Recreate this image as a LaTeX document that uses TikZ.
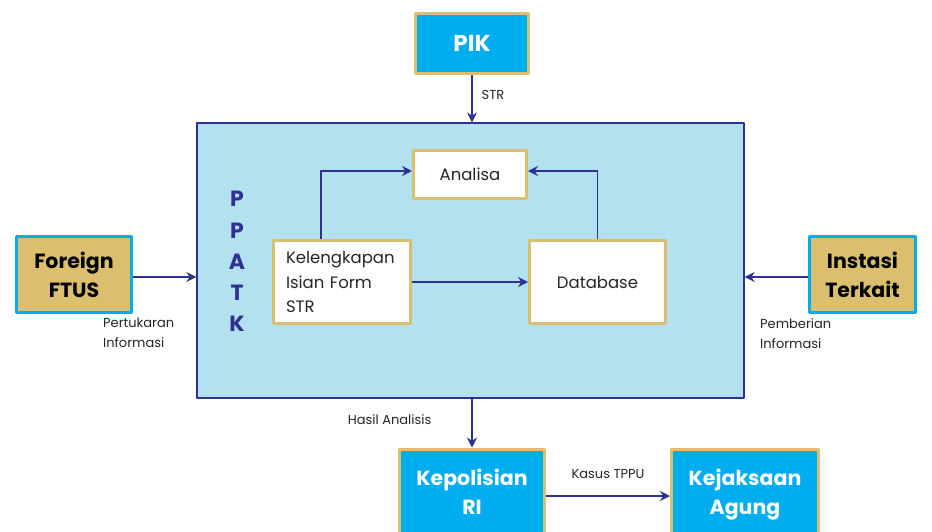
\documentclass[tikz,border=0pt]{standalone}
\usepackage{fontspec}
\setmainfont{Poppins}
\usetikzlibrary{arrows.meta}
\definecolor{sky}{HTML}{00AEEF}
\definecolor{sand}{HTML}{DBBF6E}
\definecolor{pale}{HTML}{B3E1F0}
\definecolor{navy}{HTML}{2E3192}
\tikzset{
  unit/.style={draw=sand, fill=sky, line width=3pt, text=white, align=center,
    font=\bfseries\fontsize{20.5}{29}\selectfont, inner sep=0pt, text depth=0pt},
  outside/.style={draw=sky, fill=sand, line width=3pt, text=black, align=center,
    font=\bfseries\fontsize{20.5}{29}\selectfont, inner sep=0pt},
  task/.style={draw=sand, fill=white, line width=3pt, text=black!85,
    font=\fontsize{16.5}{24.5}\selectfont, inner sep=0pt},
  flow/.style={draw=navy, line width=1.3pt, ->},
  note/.style={font=\fontsize{13}{20}\selectfont, text=black!85, inner sep=0pt},
  letter/.style={font=\bfseries\fontsize{22}{22}\selectfont, text=navy, inner sep=0pt}
}
\begin{document}
\begin{tikzpicture}[x=1pt, y=-1pt, >={Stealth[length=10pt,width=10pt]}, line join=round]
    \useasboundingbox[fill=white] (0,0) rectangle (932,531);
    % PPATK
    \node[draw=navy, fill=pale, line width=1.3pt, minimum width=547pt, minimum height=275pt] (ppatk) at (470.5,260.5) {};
    \foreach \c [count=\i from 0] in {P,P,A,T,K} \node[letter] (l\i) at (237,199+31.3*\i) {\c};
    \node[task, minimum width=113pt, minimum height=48pt] (analisa) at (470,174.5) {Analisa};
    \node[task, minimum width=137pt, minimum height=83pt, align=left, text width=112pt] (form) at (342,282) {Kelengkapan\\Isian Form\\STR};
    \node[task, minimum width=136pt, minimum height=83pt] (db) at (597.5,282) {Database};
    % around
    \node[unit, minimum width=113pt, minimum height=60pt, font=\bfseries\fontsize{23}{29}\selectfont] (pik) at (472,43.5) {PIK};
    \node[outside, minimum width=115pt, minimum height=76pt] (ftus) at (74,274.5) {Foreign\\FTUS};
    \node[outside, minimum width=106pt, minimum height=76pt] (instasi) at (862.5,274.5) {Instasi\\Terkait};
    \node[unit, minimum width=145pt, minimum height=86pt] (polri) at (472,492) {Kepolisian\\RI};
    \node[unit, minimum width=147pt, minimum height=86pt] (kejagung) at (745,492) {Kejaksaan\\Agung};
    % connectors
    \draw[flow] (pik) -- (ppatk.north -| pik) node[note, pos=0.42, right=9pt] {STR};
    \draw[flow] ([yshift=-2.5pt]ftus.east) -- ([yshift=-2.5pt]ftus.east -| ppatk.west);
    \draw[flow] ([yshift=-2.5pt]instasi.west) -- ([yshift=-2.5pt]instasi.west -| ppatk.east);
    \draw[flow] ([xshift=-21pt]form.north) |- ([yshift=3.5pt]analisa.west);
    \draw[flow] (db.north) |- ([yshift=3.5pt]analisa.east);
    \draw[flow] (form.east) -- (db.west);
    \draw[flow] (ppatk.south -| polri) -- (polri.north) node[note, pos=0.42, left=40pt] {Hasil Analisis};
    \draw[flow] ([yshift=-4pt]polri.east) -- ([yshift=-4pt]polri.east -| kejagung.west) node[note, midway, above=17pt] {Kasus TPPU};
    \node[note, anchor=north west, align=left] (tukar) at (103,318) {Pertukaran\\Informasi};
    \node[note, anchor=north west, align=left] (beri) at (760,318) {Pemberian\\Informasi};
\end{tikzpicture}
\end{document}
